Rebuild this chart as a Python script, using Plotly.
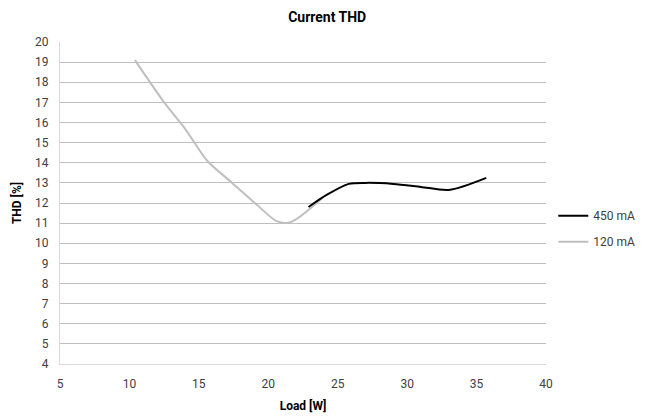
import plotly.graph_objects as go

series_names = ["450 mA", "120 mA"]
load_450 = [22.9, 24.2, 25.8, 27.0, 29.0, 31.0, 33.0, 35.7]
thd_450 = [11.8, 12.4, 12.95, 13.0, 12.95, 12.8, 12.65, 13.25]
load_120 = [10.4, 12.5, 14.0, 15.6, 17.4, 19.2, 20.6, 21.6, 23.9]
thd_120 = [19.1, 17.0, 15.7, 14.1, 13.0, 11.9, 11.1, 11.05, 12.25]
x_ticks = [5, 10, 15, 20, 25, 30, 35, 40]
y_ticks = list(range(4, 21))

FONT = "Roboto, 'DejaVu Sans', sans-serif"

fig = go.Figure()
fig.add_trace(go.Scatter(x=load_120, y=thd_120, name=series_names[1], mode="lines",
                         line=dict(color="#bfbfbf", width=2, shape="spline", smoothing=0.8),
                         showlegend=False))
fig.add_trace(go.Scatter(x=load_450, y=thd_450, name=series_names[0], mode="lines",
                         legendgroup="a",
                         line=dict(color="#000000", width=2, shape="spline", smoothing=0.8)))
fig.add_trace(go.Scatter(x=[None], y=[None], name=series_names[1], mode="lines",
                         legendgroup="b",
                         line=dict(color="#bfbfbf", width=2)))

fig.update_layout(
    width=654, height=416,
    paper_bgcolor="white", plot_bgcolor="white",
    margin=dict(l=52, r=116, t=34, b=60, autoexpand=False),
    title=dict(text="<b>Current THD</b>", x=0.488, xanchor="center", y=0.99, yanchor="top",
               xref="container", font=dict(family=FONT, size=14, color="#000000")),
    font=dict(family=FONT, size=12, color="#404040"),
    xaxis=dict(range=[5, 40], tickvals=x_ticks, showgrid=False, showline=True,
               linecolor="#d9d9d9", linewidth=1, ticks="", zeroline=False,
               ticklabelstandoff=9, automargin=False,
               tickfont=dict(size=12, color="#404040"),
               title=dict(text="<b>Load [W]</b>", font=dict(size=12, color="#000000"), standoff=11)),
    yaxis=dict(range=[4, 20], tickvals=y_ticks, showgrid=True, gridcolor="#bfbfbf", gridwidth=1,
               showline=True, linecolor="#d9d9d9", linewidth=1, ticks="", zeroline=False,
               ticklabelstandoff=8, automargin=False,
               tickfont=dict(size=12, color="#404040"),
               title=dict(text="<b>THD [%]</b>", font=dict(size=12, color="#000000"), standoff=10)),
    legend=dict(x=1.015, xanchor="left", y=0.42, yanchor="middle", bgcolor="rgba(0,0,0,0)",
                font=dict(size=12, color="#404040"), tracegroupgap=7, itemwidth=30),
)

fig.write_html("out.html")
